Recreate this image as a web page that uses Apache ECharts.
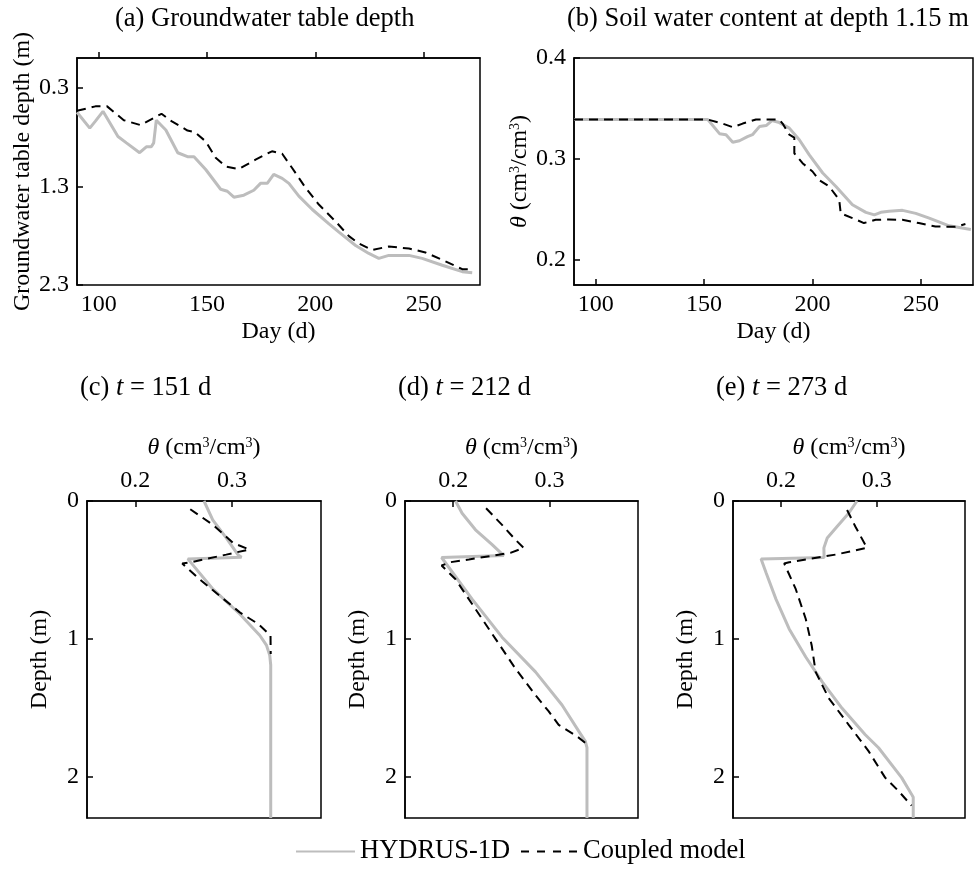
<!DOCTYPE html>
<html>
<head>
<meta charset="utf-8">
<script src="https://cdn.jsdelivr.net/npm/echarts@6/dist/echarts.min.js"></script>
<style>html,body{margin:0;padding:0;background:#fff}#c{width:979px;height:876px}</style>
</head>
<body>
<div id="c"></div>
<script>
// ---------- data ----------
// (a) groundwater table depth (m) vs day
const aHydrusDay = [90,95.9,98.5,102,108.9,112.8,118.9,122,124.3,125.4,126.6,131,136.5,141,144,149.4,156.3,159.4,162.4,167,171.6,174.7,177.8,180.8,184.7,187.8,192.4,198.6,206.3,210.9,218.6,224.7,229.3,233.9,243.2,249.3,258.6,267.8,272.4];
const aHydrusDepth = [0.55,0.71,0.64,0.54,0.795,0.86,0.96,0.90,0.90,0.86,0.63,0.73,0.96,1.00,1.00,1.13,1.33,1.35,1.41,1.39,1.34,1.27,1.27,1.18,1.22,1.27,1.40,1.535,1.68,1.765,1.90,1.98,2.03,2.00,2.00,2.03,2.10,2.165,2.175];
const aCoupledDay = [90,98.5,103.9,111.6,119.3,129,133.6,141,144.3,149.4,154,158.6,164.7,172.4,180,184.7,189.3,195.5,201.6,209.3,215.5,220.1,226.2,233.9,243.2,250.8,260,267.8,273];
const aCoupledDepth = [0.535,0.49,0.49,0.63,0.68,0.565,0.64,0.735,0.75,0.845,1.01,1.10,1.125,1.03,0.945,0.97,1.115,1.315,1.485,1.655,1.805,1.88,1.945,1.91,1.93,1.97,2.06,2.14,2.14];
// (b) soil water content at 1.15 m vs day
const bHydrusDay = [90,151.7,157.1,160.1,163.2,166.3,170,172.3,175.5,178.6,181.3,184.7,189.3,193.9,198.5,204.7,210.8,218.4,224.6,228.5,231.5,235.3,241.5,247.6,253.8,263,273];
const bHydrusTheta = [0.339,0.339,0.325,0.324,0.3165,0.318,0.322,0.324,0.332,0.333,0.338,0.336,0.3305,0.319,0.304,0.286,0.2726,0.2545,0.247,0.2445,0.247,0.248,0.249,0.246,0.2413,0.2337,0.230];
const bCoupledDay = [90,151.7,158.6,163.2,167.8,173.9,184.7,186.2,189.3,191.6,191.6,195.4,200,203.1,207.7,212.3,213,218.4,223.7,229.1,235.2,241.4,249,256.7,265.9,270.5];
const bCoupledTheta = [0.339,0.339,0.335,0.3314,0.335,0.339,0.339,0.335,0.324,0.321,0.3056,0.2957,0.2875,0.279,0.2726,0.2594,0.246,0.2413,0.2364,0.2396,0.240,0.2396,0.2364,0.233,0.2327,0.2354];
// (c) profile at t = 151 d
const cHydrusTheta = [0.271,0.280,0.294,0.306,0.3098,0.2543,0.2803,0.308,0.3288,0.3357,0.339,0.34,0.34];
const cHydrusDepth = [0,0.137,0.268,0.389,0.408,0.42,0.64,0.82,0.976,1.048,1.12,1.19,2.3];
const cCoupledTheta = [0.2568,0.2803,0.301,0.3177,0.294,0.2578,0.2485,0.2664,0.2872,0.308,0.327,0.3398,0.34];
const cCoupledDepth = [0.06,0.173,0.304,0.352,0.389,0.444,0.453,0.568,0.688,0.808,0.892,0.976,1.11];
// (d) profile at t = 212 d
const dHydrusTheta = [0.2025,0.2093,0.2232,0.2405,0.2526,0.2526,0.188,0.192,0.2197,0.2508,0.2855,0.3131,0.3304,0.3373,0.339,0.339];
const dHydrusDepth = [0,0.089,0.209,0.317,0.396,0.41,0.41,0.448,0.712,0.988,1.24,1.48,1.67,1.744,1.79,2.3];
const dCoupledTheta = [0.2342,0.2508,0.2647,0.2733,0.2595,0.2163,0.1973,0.188,0.2025,0.2232,0.244,0.2647,0.2855,0.2993,0.3096,0.3286,0.3373];
const dCoupledDepth = [0.053,0.173,0.281,0.34,0.376,0.424,0.444,0.468,0.568,0.784,1.0,1.216,1.408,1.527,1.624,1.707,1.755];
// (e) profile at t = 273 d
const eHydrusTheta = [0.2793,0.2707,0.2586,0.2483,0.2448,0.245,0.1793,0.1845,0.1948,0.2086,0.2259,0.2431,0.2638,0.288,0.3018,0.3259,0.3362,0.338,0.338];
const eHydrusDepth = [0,0.089,0.185,0.268,0.34,0.41,0.42,0.52,0.712,0.928,1.132,1.312,1.504,1.696,1.79,2.007,2.127,2.15,2.3];
const eCoupledTheta = [0.269,0.2776,0.2897,0.257,0.2086,0.2034,0.2155,0.2259,0.2321,0.2362,0.25,0.2707,0.2914,0.3087,0.3225,0.3362];
const eCoupledDepth = [0.065,0.185,0.34,0.389,0.444,0.453,0.64,0.856,1.048,1.24,1.432,1.624,1.815,2.007,2.103,2.21];
// ticks
const dayTicks = [100,150,200,250];
const gwTicks = [0.3,1.3,2.3];
const thetaTicksB = [0.2,0.3,0.4];
const thetaTicksProfile = [0.2,0.3];
const seriesNames = ['HYDRUS-1D','Coupled model'];
const panelTitles = ['(a) Groundwater table depth','(b) Soil water content at depth 1.15 m','(c) {i|t} = 151 d','(d) {i|t} = 212 d','(e) {i|t} = 273 d'];

// ---------- chart ----------
const FONT = 'Liberation Serif';
const FS = 24;      // axis labels / names
const FT = 26.5;    // panel titles & legend
const zip = (a, b) => a.map((v, i) => [v, b[i]]);
const richAx = {
  i: {fontFamily: FONT, fontSize: FS, fontStyle: 'italic', color: '#000'},
  s: {fontFamily: FONT, fontSize: 14, verticalAlign: 'top', color: '#000'}
};
const richT = {
  i: {fontFamily: FONT, fontSize: FT, fontStyle: 'italic', color: '#000'}
};
const thetaName = '{i|θ} (cm{s|3}/cm{s|3})';
const txt = {fontFamily: FONT, fontSize: FS, color: '#000'};
const lineAx = {show: true, lineStyle: {color: '#000', width: 1.5}};
const tickAx = (vals) => ({show: true, inside: true, length: 6, lineStyle: {color: '#000', width: 1.5}, customValues: vals});
const labAx = (vals, fmt) => ({color: '#000', fontFamily: FONT, fontSize: FS, customValues: vals, formatter: fmt, margin: 8});

const grids = [
  {left: 77, top: 58, width: 403, height: 227},
  {left: 574, top: 58, width: 399, height: 227},
  {left: 87, top: 501, width: 234, height: 317},
  {left: 405, top: 501, width: 233, height: 317},
  {left: 733, top: 501, width: 232, height: 317}
].map(g => Object.assign(g, {show: true, borderColor: '#000', borderWidth: 1.5, backgroundColor: 'transparent'}));

const xAxes = [
  {gridIndex: 0, type: 'value', min: 90, max: 276, axisLine: lineAx, axisTick: tickAx(dayTicks),
   axisLabel: labAx(dayTicks, v => String(v)), splitLine: {show: false},
   name: 'Day (d)', nameLocation: 'middle', nameGap: 35, nameTextStyle: txt},
  {gridIndex: 1, type: 'value', min: 90, max: 274, axisLine: lineAx, axisTick: tickAx(dayTicks),
   axisLabel: labAx(dayTicks, v => String(v)), splitLine: {show: false},
   name: 'Day (d)', nameLocation: 'middle', nameGap: 35, nameTextStyle: txt}
];
const yAxes = [
  {gridIndex: 0, type: 'value', inverse: true, min: 0, max: 2.3, axisLine: lineAx, axisTick: tickAx(gwTicks),
   axisLabel: labAx(gwTicks, v => v.toFixed(1)), splitLine: {show: false},
   name: 'Groundwater table depth (m)', nameLocation: 'middle', nameGap: 41, nameTextStyle: txt},
  {gridIndex: 1, type: 'value', min: 0.175, max: 0.4, axisLine: lineAx, axisTick: tickAx(thetaTicksB),
   axisLabel: labAx(thetaTicksB, v => v.toFixed(1)), splitLine: {show: false},
   name: thetaName, nameLocation: 'middle', nameGap: 40, nameTextStyle: Object.assign({rich: richAx}, txt)}
];
for (let k = 0; k < 3; k++) {
  xAxes.push({gridIndex: 2 + k, type: 'value', position: 'top', min: 0.15, max: 0.392,
    axisLine: lineAx, axisTick: tickAx(thetaTicksProfile),
    axisLabel: labAx(thetaTicksProfile, v => v.toFixed(1)), splitLine: {show: false},
    name: thetaName, nameLocation: 'middle', nameGap: 41, nameTextStyle: Object.assign({rich: richAx}, txt)});
  yAxes.push({gridIndex: 2 + k, type: 'value', inverse: true, min: 0, max: 2.3, interval: 1,
    axisLine: lineAx, axisTick: {show: true, inside: true, length: 6, lineStyle: {color: '#000', width: 1.5}},
    axisLabel: {color: '#000', fontFamily: FONT, fontSize: FS, margin: 8, showMaxLabel: false, formatter: v => String(v)},
    splitLine: {show: false},
    name: 'Depth (m)', nameLocation: 'middle', nameGap: 35, nameTextStyle: txt});
}

const grayStyle = {color: '#bdbdbd', width: 3, type: 'solid'};
const dashStyle = {color: '#000', width: 2, type: [9, 6]};
function mk(name, idx, data, style) {
  return {name: name, type: 'line', xAxisIndex: idx, yAxisIndex: idx, data: data, showSymbol: false, symbol: 'none',
          lineStyle: style, itemStyle: {color: style.color}, silent: true, animation: false, clip: true};
}
const series = [
  mk(seriesNames[0], 0, zip(aHydrusDay, aHydrusDepth), grayStyle),
  mk(seriesNames[1], 0, zip(aCoupledDay, aCoupledDepth), dashStyle),
  mk(seriesNames[0], 1, zip(bHydrusDay, bHydrusTheta), grayStyle),
  mk(seriesNames[1], 1, zip(bCoupledDay, bCoupledTheta), dashStyle),
  mk(seriesNames[0], 2, zip(cHydrusTheta, cHydrusDepth), grayStyle),
  mk(seriesNames[1], 2, zip(cCoupledTheta, cCoupledDepth), dashStyle),
  mk(seriesNames[0], 3, zip(dHydrusTheta, dHydrusDepth), grayStyle),
  mk(seriesNames[1], 3, zip(dCoupledTheta, dCoupledDepth), dashStyle),
  mk(seriesNames[0], 4, zip(eHydrusTheta, eHydrusDepth), grayStyle),
  mk(seriesNames[1], 4, zip(eCoupledTheta, eCoupledDepth), dashStyle)
];

const titlePos = [[115, 6], [567, 6], [80, 375], [398, 375], [716, 375]];
const titles = panelTitles.map((t, i) => ({
  text: t, left: titlePos[i][0], top: titlePos[i][1], padding: 0,
  textStyle: {fontFamily: FONT, fontSize: FT, fontWeight: 'normal', color: '#000', rich: richT}
}));

const legTxt = {fontFamily: FONT, fontSize: FT, color: '#000'};
const chart = echarts.init(document.getElementById('c'), null, {renderer: 'canvas'});
chart.setOption({
  animation: false,
  backgroundColor: '#fff',
  title: titles,
  grid: grids,
  xAxis: xAxes,
  yAxis: yAxes,
  legend: [
    {data: [seriesNames[0]], left: 295, top: 838, itemWidth: 59, itemHeight: 12, itemGap: 8, padding: 0,
     itemStyle: {opacity: 0}, textStyle: legTxt, selectedMode: false},
    {data: [seriesNames[1]], left: 520, top: 838, itemWidth: 57, itemHeight: 12, itemGap: 4, padding: 0,
     itemStyle: {opacity: 0}, lineStyle: {type: [8, 8]}, textStyle: legTxt, selectedMode: false}
  ],
  series: series
});
</script>
</body>
</html>
